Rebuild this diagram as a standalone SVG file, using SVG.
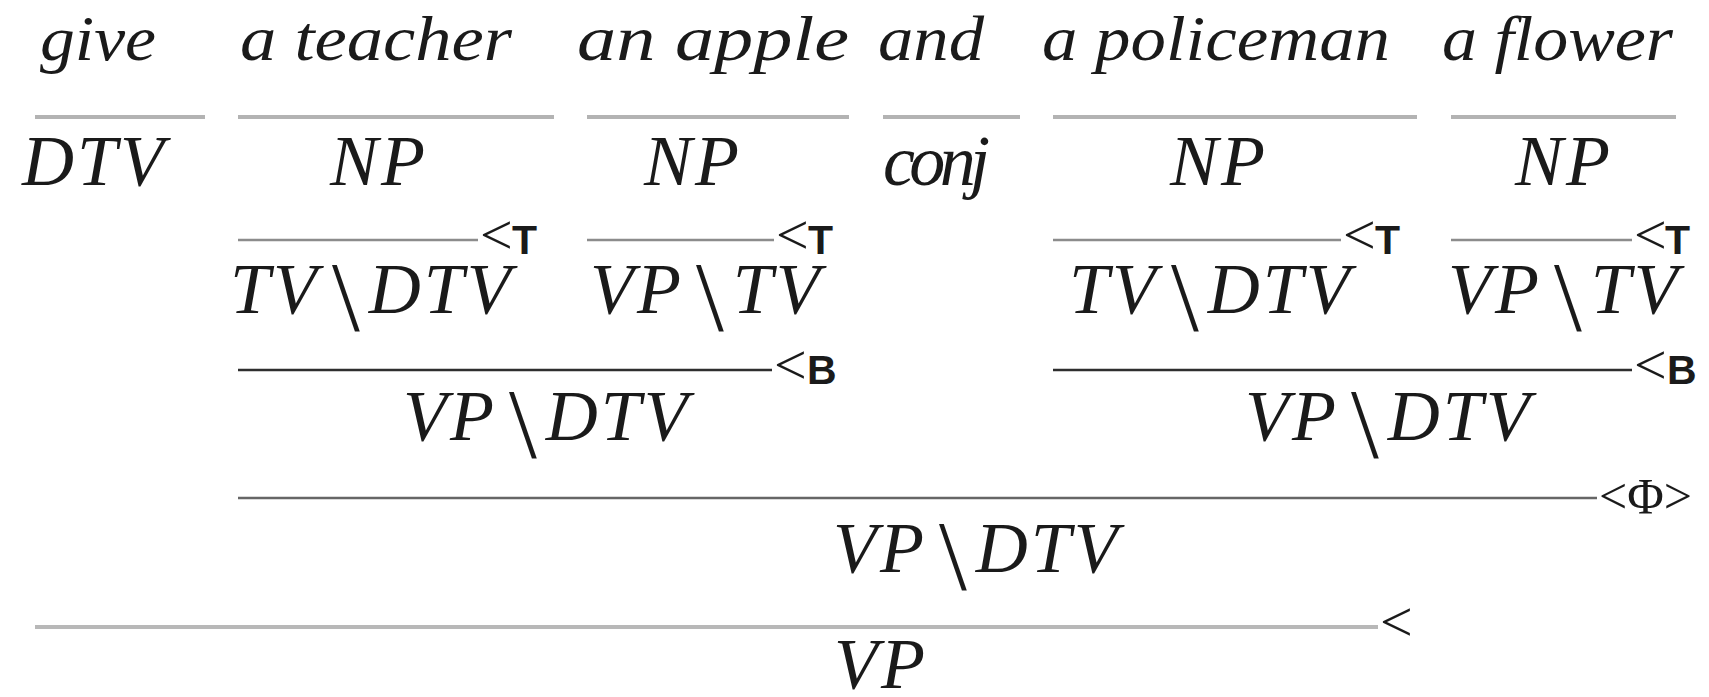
<svg xmlns="http://www.w3.org/2000/svg" width="1709" height="697" viewBox="0 0 1709 697">
  <style>
    .word { font-family: "Liberation Serif", "Times New Roman", serif; font-style: italic; font-size: 63px; fill: #1a1a1a; }
    .cat { font-family: "Liberation Serif", "Times New Roman", serif; font-style: italic; font-size: 72px; fill: #1a1a1a; letter-spacing: 3px; }
    .bs { font-style: normal; font-size: 100px; font-weight: 300; }
    .rule1 { stroke: #b3b3b3; stroke-width: 4; }
    .rule2 { stroke: #8c8c8c; stroke-width: 2.5; }
    .rule3 { stroke: #2e2e2e; stroke-width: 2.5; }
    .rule4 { stroke: #666666; stroke-width: 2.5; }
    .rule5 { stroke: #b8b8b8; stroke-width: 4; }
    .op { font-family: "Liberation Serif", "Times New Roman", serif; font-size: 58px; fill: #1a1a1a; }
    .comb { font-family: "Liberation Sans", Arial, sans-serif; font-weight: bold; font-size: 41px; fill: #1a1a1a; }
  </style>

  <!-- lexical items -->
  <g id="w-give"><text class="word" x="40" y="60" textLength="116" lengthAdjust="spacingAndGlyphs">give</text></g>
  <g id="w-teacher"><text class="word" x="240" y="60" textLength="272" lengthAdjust="spacingAndGlyphs">a teacher</text></g>
  <g id="w-apple"><text class="word" x="577" y="60" textLength="272" lengthAdjust="spacingAndGlyphs">an apple</text></g>
  <g id="w-and"><text class="word" x="878" y="60" textLength="106" lengthAdjust="spacingAndGlyphs">and</text></g>
  <g id="w-policeman"><text class="word" x="1042" y="60" textLength="348" lengthAdjust="spacingAndGlyphs">a policeman</text></g>
  <g id="w-flower"><text class="word" x="1442" y="60" textLength="231" lengthAdjust="spacingAndGlyphs">a flower</text></g>

  <!-- lexical categories -->
  <g id="c-give"><text class="cat" x="22" y="185">DTV</text></g>
  <g id="c-teacher"><text class="cat" x="379" y="185" text-anchor="middle">NP</text></g>
  <g id="c-apple"><text class="cat" x="693" y="185" text-anchor="middle">NP</text></g>
  <g id="c-and"><text class="cat" x="883" y="185" textLength="107" style="letter-spacing:0">conj</text></g>
  <g id="c-policeman"><text class="cat" x="1219" y="185" text-anchor="middle">NP</text></g>
  <g id="c-flower"><text class="cat" x="1564" y="185" text-anchor="middle">NP</text></g>

  <!-- type-raised categories -->
  <g id="t-teacher"><text class="cat" x="230" y="313">TV<tspan class="bs" dx="12" dy="17">\</tspan><tspan dx="6" dy="-17">DTV</tspan></text></g>
  <g id="t-apple"><text class="cat" x="590" y="313">VP<tspan class="bs" dx="12" dy="17">\</tspan><tspan dx="6" dy="-17">TV</tspan></text></g>
  <g id="t-policeman"><text class="cat" x="1069" y="313">TV<tspan class="bs" dx="12" dy="17">\</tspan><tspan dx="6" dy="-17">DTV</tspan></text></g>
  <g id="t-flower"><text class="cat" x="1448" y="313">VP<tspan class="bs" dx="12" dy="17">\</tspan><tspan dx="6" dy="-17">TV</tspan></text></g>

  <!-- composed argument clusters -->
  <g id="b-left"><text class="cat" x="403" y="440">VP<tspan class="bs" dx="12" dy="17">\</tspan><tspan dx="6" dy="-17">DTV</tspan></text></g>
  <g id="b-right"><text class="cat" x="1245" y="440">VP<tspan class="bs" dx="12" dy="17">\</tspan><tspan dx="6" dy="-17">DTV</tspan></text></g>

  <!-- coordination -->
  <g id="coord"><text class="cat" x="833" y="572">VP<tspan class="bs" dx="12" dy="17">\</tspan><tspan dx="6" dy="-17">DTV</tspan></text></g>

  <!-- result -->
  <g id="result"><text class="cat" x="834" y="688">VP</text></g>

  <!-- derivation rules -->
  <g id="connectors">
    <line class="rule1" x1="35" y1="117" x2="205" y2="117"/>
    <line class="rule1" x1="238" y1="117" x2="554" y2="117"/>
    <line class="rule1" x1="587" y1="117" x2="849" y2="117"/>
    <line class="rule1" x1="883" y1="117" x2="1020" y2="117"/>
    <line class="rule1" x1="1053" y1="117" x2="1417" y2="117"/>
    <line class="rule1" x1="1451" y1="117" x2="1676" y2="117"/>

    <line class="rule2" x1="238" y1="240" x2="478" y2="240"/>
    <text class="op" x="480" y="254">&lt;</text><text class="comb" x="512" y="254">T</text>
    <line class="rule2" x1="587" y1="240" x2="774" y2="240"/>
    <text class="op" x="776" y="254">&lt;</text><text class="comb" x="808" y="254">T</text>
    <line class="rule2" x1="1053" y1="240" x2="1341" y2="240"/>
    <text class="op" x="1343" y="254">&lt;</text><text class="comb" x="1375" y="254">T</text>
    <line class="rule2" x1="1451" y1="240" x2="1632" y2="240"/>
    <text class="op" x="1634" y="254">&lt;</text><text class="comb" x="1665" y="254">T</text>

    <line class="rule3" x1="238" y1="370" x2="772" y2="370"/>
    <text class="op" x="774" y="384">&lt;</text><text class="comb" x="807" y="384">B</text>
    <line class="rule3" x1="1053" y1="370" x2="1632" y2="370"/>
    <text class="op" x="1634" y="384">&lt;</text><text class="comb" x="1667" y="384">B</text>

    <line class="rule4" x1="238" y1="498" x2="1597" y2="498"/>
    <text class="op" x="1599" y="513" style="font-size:50px">&lt;Φ&gt;</text>

    <line class="rule5" x1="35" y1="627" x2="1378" y2="627"/>
    <text class="op" x="1380" y="641">&lt;</text>
  </g>
</svg>
